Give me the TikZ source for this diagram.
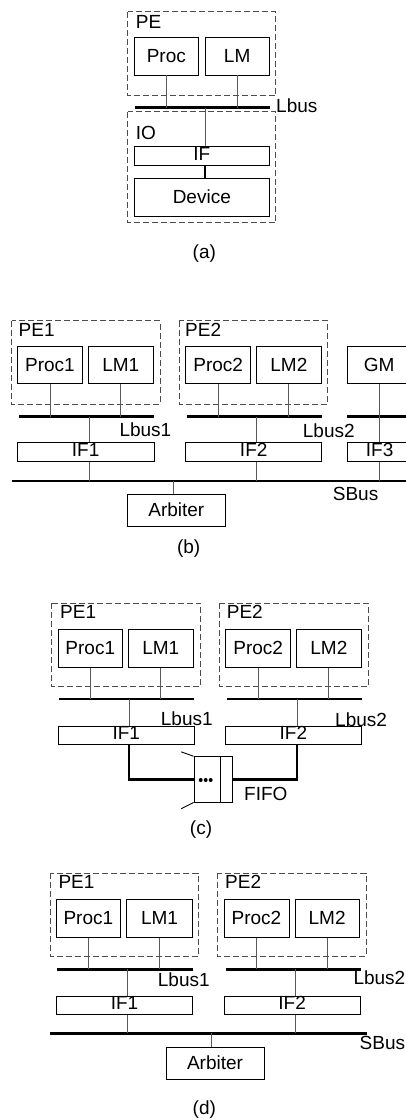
\documentclass[tikz,border=0pt]{standalone}
\usepackage{fontspec}
\setmainfont{Liberation Sans}
\begin{document}
\begin{tikzpicture}[x=1pt, y=-1pt, font=\fontsize{19}{22}\selectfont,
  box/.style={draw, line width=0.9pt, inner sep=0pt},
  ifbox/.style={box, text depth=5pt},
  pe/.style={draw=black!70, dash pattern=on 6pt off 3pt, line width=0.9pt},
  wire/.style={black!65, line width=0.8pt},
  bus/.style={line width=2.6pt},
  link/.style={line width=2.3pt},
  lbl/.style={anchor=base west, inner sep=0pt}]
  \useasboundingbox (0,0) rectangle (406,1120);
  \foreach \nm/\xa/\ya/\xb/\yb/\txt in {
    a-proc/134.3/37.3/198.3/75/Proc, a-lm/205/37.3/269.3/75/LM, a-dev/134.3/178.3/269.3/216/Device,
    b-proc1/17.7/346/82.3/383.3/Proc1, b-lm1/88.3/346/153.3/383.3/LM1,
    b-proc2/185.7/346/250.7/383.3/Proc2, b-lm2/256.7/346/321/383.3/LM2,
    b-gm/347.3/346/411/383.3/GM, b-arb/127.7/494.3/225/526/Arbiter,
    c-proc1/58.3/629.3/122.3/667.3/Proc1, c-lm1/128.3/629.3/193.3/667.3/LM1,
    c-proc2/225.7/629.3/290.7/667.3/Proc2, c-lm2/296.7/629.3/361/667.3/LM2,
    c-fifo/194/756.7/232.7/802/{},
    d-proc1/56/899/120.7/937.3/Proc1, d-lm1/126.7/899/192.3/937.3/LM1,
    d-proc2/224/899/289/937.3/Proc2, d-lm2/295/899/359.3/937.3/LM2,
    d-arb/166/1047.3/264/1079/Arbiter}
    \node[box, minimum width={\xb-\xa}, minimum height={\yb-\ya}] (\nm)
      at ({(\xa+\xb)/2},{(\ya+\yb)/2}) {\txt};
  \foreach \nm/\xa/\ya/\xb/\yb/\txt in {
    a-if/134.3/146.7/269.3/165.3/IF,
    b-if1/17.3/442.7/154/461.7/IF1, b-if2/185.7/442.7/321.7/461.7/IF2, b-if3/347.3/442.7/412/461.7/IF3,
    c-if1/58.3/726/194.3/744.3/IF1, c-if2/225.7/726/361/744.3/IF2,
    d-if1/56.7/996/192.3/1014.3/IF1, d-if2/224.3/996/360/1014.3/IF2}
    \node[ifbox, minimum width={\xb-\xa}, minimum height={\yb-\ya}] (\nm)
      at ({(\xa+\xb)/2},{(\ya+\yb)/2}) {\txt};
  \foreach \xa/\ya/\xb/\yb in {127.7/11.7/275.7/95.7, 127.7/111.7/275.7/222.7,
    11.7/320.7/160/404, 179.3/320.7/327.7/404, 51.7/603.3/200.7/686.7, 219.3/603.3/368.3/686.7,
    50/873.3/198.3/956.7, 217.7/873.3/366/956.7}
    \draw[pe] (\xa,\ya) rectangle (\xb,\yb);
  \foreach \nm/\xa/\xb/\yv in {a-lbus/135/270/107.7,
    b-lbus1/19/154/416.7, b-lbus2/186.7/321.7/416.7, b-gbus/347.3/412/416.7, b-sbus/11.7/412/481,
    c-lbus1/59/194.3/699, c-lbus2/226.7/361.7/699,
    d-lbus1/57.3/192.7/969.3, d-lbus2/225.7/361/969.3, d-sbus/50/366.7/1033.3}
  {
    \coordinate (\nm-w) at (\xa,\yv);
    \coordinate (\nm-e) at (\xb,\yv);
    \draw[bus] (\nm-w) -- (\nm-e);
  }
  \foreach \nm/\xv/\yv/\txt in {a-pe/135.7/28.3/PE, a-lb/276/112/Lbus, a-io/135.7/139/IO,
    b-pe1/18.5/336/PE1, b-pe2/185/336/PE2, b-lb1/119.3/436.7/Lbus1, b-lb2/302.7/437.3/Lbus2,
    b-sb/332.7/500/SBus,
    c-pe1/60/618.3/PE1, c-pe2/226.7/618.3/PE2, c-lb1/160.7/725/Lbus1, c-lb2/335/726.7/Lbus2,
    c-ff/244/800/FIFO,
    d-pe1/58.3/888.3/PE1, d-pe2/225/888.3/PE2, d-lb1/157.7/986/Lbus1, d-lb2/353.3/984/Lbus2,
    d-sb/359.5/1049.3/SBus}
    \node[lbl] (\nm-l) at (\xv,\yv) {\txt};
  \foreach \bx/\bs in {a-proc/a-lbus, a-lm/a-lbus, b-proc1/b-lbus1, b-lm1/b-lbus1,
    b-proc2/b-lbus2, b-lm2/b-lbus2, c-proc1/c-lbus1, c-lm1/c-lbus1, c-proc2/c-lbus2,
    c-lm2/c-lbus2, d-proc1/d-lbus1, d-lm1/d-lbus1, d-proc2/d-lbus2, d-lm2/d-lbus2}
    \draw[wire] (\bx) -- (\bx |- \bs-w);
  \foreach \nm/\xv/\bs/\bi in {a-t/205.3/a-lbus/a-if, b-t1/89.3/b-lbus1/b-if1, b-t2/256.7/b-lbus2/b-if2,
    c-t1/129.3/c-lbus1/c-if1, c-t2/297.3/c-lbus2/c-if2, d-t1/127.7/d-lbus1/d-if1, d-t2/295.7/d-lbus2/d-if2}
  {
    \coordinate (\nm) at (\xv,0 |- \bs-w);
    \draw[wire] (\nm) -- (\nm |- \bi.north);
  }
  \draw[link] (a-if.south -| a-t) -- (a-dev.north -| a-t);
  \foreach \tp/\bi/\bs in {b-t1/b-if1/b-sbus, b-t2/b-if2/b-sbus, d-t1/d-if1/d-sbus, d-t2/d-if2/d-sbus}
    \draw[wire] (\bi.south -| \tp) -- (\tp |- \bs-w);
  \draw[wire] (b-gm) -- (b-gm |- b-if3.north);
  \draw[wire] (b-if3.south -| b-gm) -- (b-gm |- b-sbus-w);
  \coordinate (b-ta) at (173,481);
  \draw[wire] (b-ta) -- (b-ta |- b-arb.north);
  \coordinate (d-ta) at (211.7,1033.3);
  \draw[wire] (d-ta) -- (d-ta |- d-arb.north);
  \draw[box] (c-fifo.north east) ++(-12.7,0) -- ++(0,45.3);
  \foreach \dx in {-5,0,5}
    \fill (205.7+\dx,780) circle (2);
  \draw[box] (c-fifo.north west) -- ++(-12.3,-4.4);
  \draw[box] (c-fifo.south west) -- ++(-12.3,6.3);
  \draw[link] (c-if1.south -| c-t1) |- (c-fifo.west);
  \draw[link] (c-fifo.east) -| (c-if2.south -| c-t2);
  \node (a-cap) at (204.3,253.3) {(a)};
  \node (b-cap) at (188.7,548.3) {(b)};
  \node (c-cap) at (201,830) {(c)};
  \node (d-cap) at (204.3,1110) {(d)};
\end{tikzpicture}
\end{document}
